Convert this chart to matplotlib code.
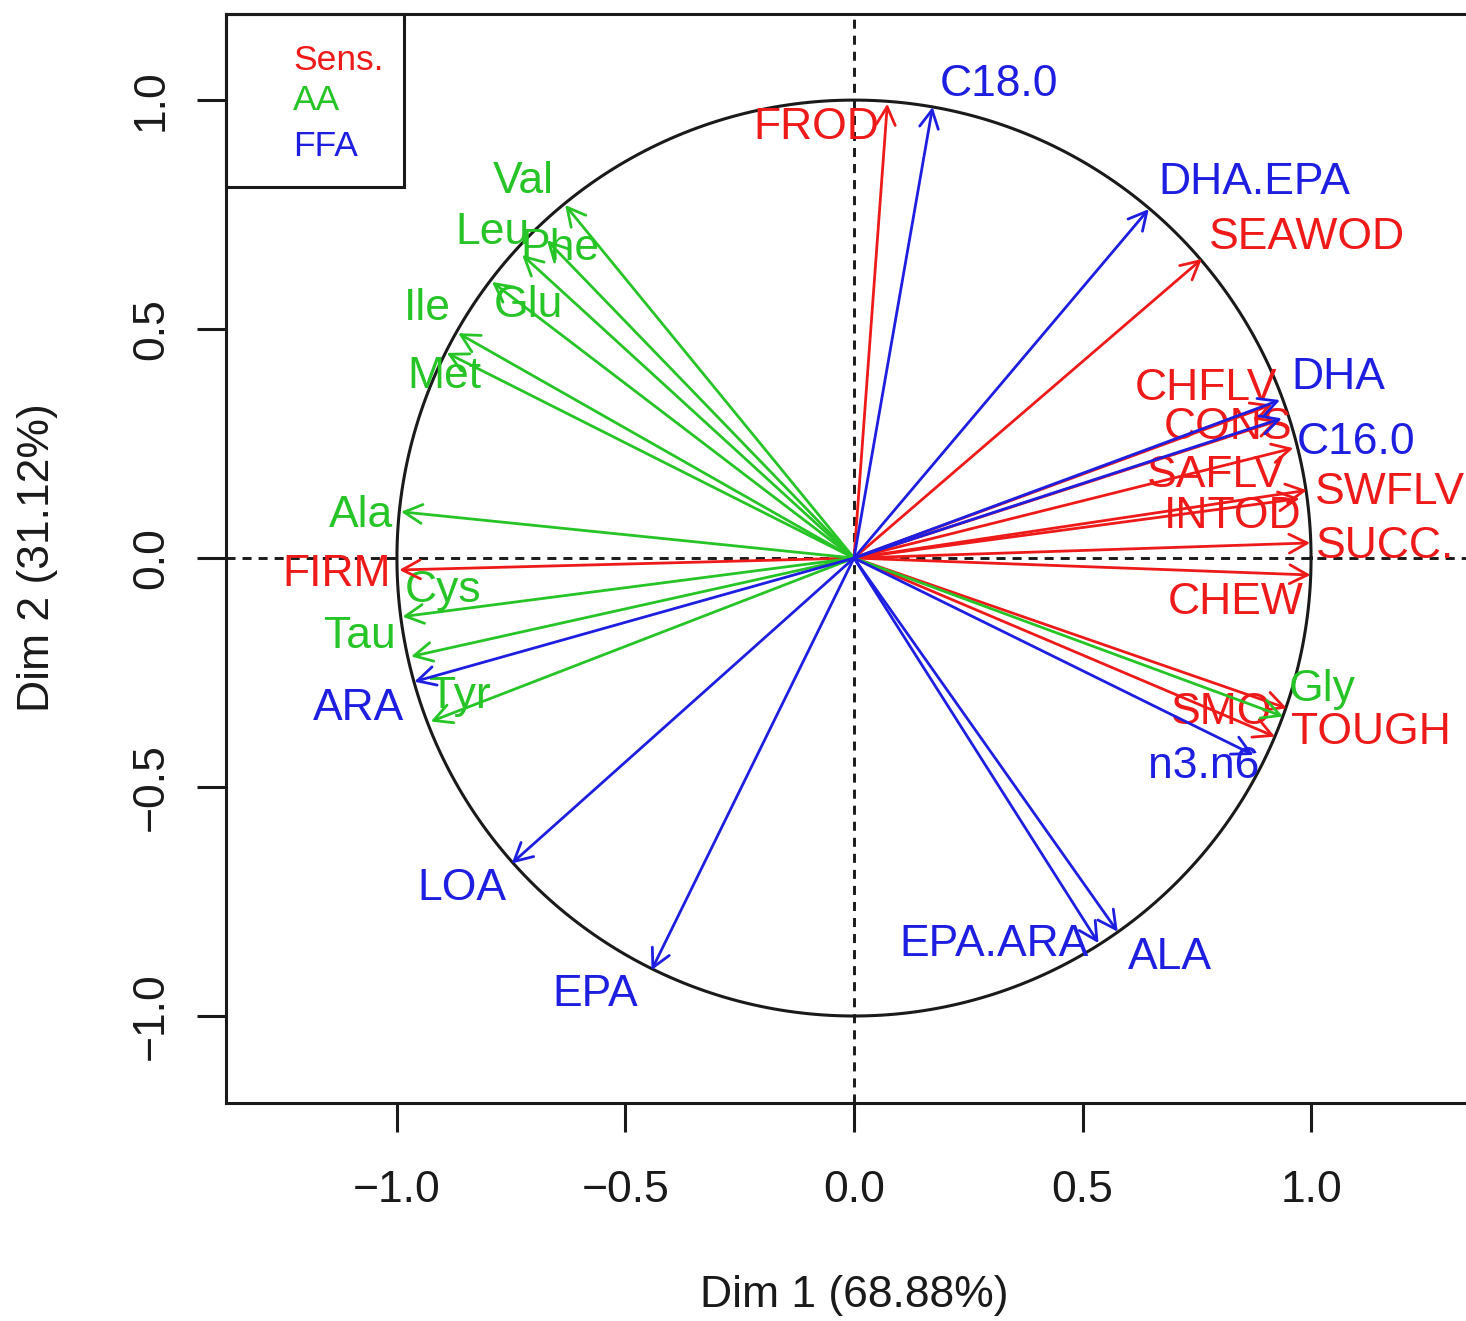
import numpy as np
import matplotlib
matplotlib.use("Agg")
import matplotlib.pyplot as plt
from matplotlib.patches import Rectangle

plt.rcParams['font.family'] = ['Liberation Sans', 'DejaVu Sans']

# correlations of the variables with Dim 1 / Dim 2
sens_names = ['FROD', 'SEAWOD', 'CHFLV', 'CONS', 'SAFLV', 'SWFLV', 'INTOD',
              'SUCC.', 'CHEW', 'SMO', 'TOUGH', 'FIRM']
sens_d1 = [0.073, 0.761, 0.915, 0.928, 0.961, 0.991, 0.975, 0.998, 0.999, 0.947, 0.921, -0.995]
sens_d2 = [0.992, 0.653, 0.335, 0.300, 0.240, 0.148, 0.130, 0.033, -0.037, -0.328, -0.390, -0.026]

aa_names = ['Val', 'Leu', 'Phe', 'Glu', 'Ile', 'Met', 'Ala', 'Cys', 'Tau', 'Tyr', 'Gly']
aa_d1 = [-0.632, -0.726, -0.672, -0.792, -0.866, -0.891, -0.991, -0.988, -0.969, -0.926, 0.939]
aa_d2 = [0.771, 0.662, 0.694, 0.603, 0.491, 0.448, 0.101, -0.128, -0.215, -0.357, -0.346]

ffa_names = ['C18.0', 'DHA.EPA', 'DHA', 'C16.0', 'n3.n6', 'ALA', 'EPA.ARA', 'EPA', 'LOA', 'ARA']
ffa_d1 = [0.172, 0.645, 0.932, 0.936, 0.874, 0.577, 0.535, -0.443, -0.749, -0.962]
ffa_d2 = [0.985, 0.762, 0.345, 0.305, -0.430, -0.816, -0.841, -0.900, -0.667, -0.270]

groups = ['Sens.', 'AA', 'FFA']
dim1_label = 'Dim 1 (68.88%)'
dim2_label = 'Dim 2 (31.12%)'
ticks = [-1.0, -0.5, 0.0, 0.5, 1.0]

# label placement (layout only)
sens_lx = [-0.083, 0.991, 0.770, 0.818, 0.792, 1.173, 0.829, 1.162, 0.836, 0.805, 1.131, -1.131]
sens_ly = [0.941, 0.699, 0.371, 0.284, 0.181, 0.144, 0.090, 0.026, -0.098, -0.338, -0.382, -0.037]
aa_lx = [-0.724, -0.792, -0.643, -0.713, -0.934, -0.895, -1.079, -0.899, -1.081, -0.862, 1.024]
aa_ly = [0.823, 0.710, 0.677, 0.552, 0.544, 0.397, 0.092, -0.070, -0.172, -0.303, -0.288]
ffa_lx = [0.317, 0.875, 1.059, 1.098, 0.764, 0.691, 0.306, -0.567, -0.858, -1.083]
ffa_ly = [1.033, 0.819, 0.395, 0.253, -0.456, -0.873, -0.844, -0.954, -0.721, -0.328]

RED = '#ee1a1a'
GREEN = '#26c426'
BLUE = '#1e1ee0'
INK = '#1a1a1a'

fig = plt.figure(figsize=(14.66, 13.21), dpi=100)
ax = fig.add_axes([226/1466, 1 - 1103/1321, 1240/1466, 1089/1321])
ax.set_xlim(-1.374, 1.339)
ax.set_ylim(-1.190, 1.188)

# unit circle and reference lines
t = np.linspace(0, 2*np.pi, 400)
ax.plot(np.cos(t), np.sin(t), color=INK, lw=2.2, zorder=2)
ax.axhline(0, color=INK, lw=2.1, dashes=(3.1, 2.4), zorder=1)
ax.axvline(0, color=INK, lw=2.1, dashes=(3.1, 2.4), zorder=1)

sets = [
    (sens_names, sens_d1, sens_d2, sens_lx, sens_ly, RED),
    (aa_names, aa_d1, aa_d2, aa_lx, aa_ly, GREEN),
    (ffa_names, ffa_d1, ffa_d2, ffa_lx, ffa_ly, BLUE),
]
for names, d1, d2, lx, ly, col in sets:
    for name, x, y, tx, ty in zip(names, d1, d2, lx, ly):
        ax.annotate('', xy=(x, y), xytext=(0, 0),
                    arrowprops=dict(arrowstyle='->,head_length=0.65,head_width=0.34',
                                    color=col, lw=2.0, shrinkA=0, shrinkB=0,
                                    mutation_scale=20), zorder=3)
        ax.text(tx, ty, name, color=col, fontsize=32, ha='center', va='center', zorder=2)

# legend box
ax.add_patch(Rectangle((0, 1 - 173/1089), 178/1240, 173/1089, transform=ax.transAxes,
                       fill=False, edgecolor=INK, lw=2.2, zorder=4, clip_on=False))
for g, col, yy in zip(groups, [RED, GREEN, BLUE], [60, 101, 146]):
    ax.text((293 - 226)/1240, 1 - (yy - 14)/1089, g, color=col, fontsize=25.5,
            ha='left', va='center', transform=ax.transAxes, zorder=4)

# axes styling (R base look)
ax.spines['right'].set_visible(False)
for s in ['left', 'top', 'bottom']:
    ax.spines[s].set_linewidth(2.2)
    ax.spines[s].set_color(INK)
ax.set_xticks(ticks)
ax.set_yticks(ticks)
lbls = ['\u22121.0', '\u22120.5', '0.0', '0.5', '1.0']
ax.set_xticklabels(lbls, fontsize=32, color=INK)
ax.set_yticklabels(lbls, fontsize=32, color=INK, rotation=90, va='center')
ax.tick_params(axis='both', direction='out', length=21, width=2.2, color=INK)
ax.tick_params(axis='x', pad=27)
ax.tick_params(axis='y', pad=18)

fig.text(854/1466, 1 - 1295/1321, dim1_label, fontsize=32, color=INK, ha='center', va='center')
fig.text(38/1466, 1 - 558/1321, dim2_label, fontsize=32, color=INK, ha='center', va='center',
         rotation=90)

fig.savefig('out.png', dpi=100)
